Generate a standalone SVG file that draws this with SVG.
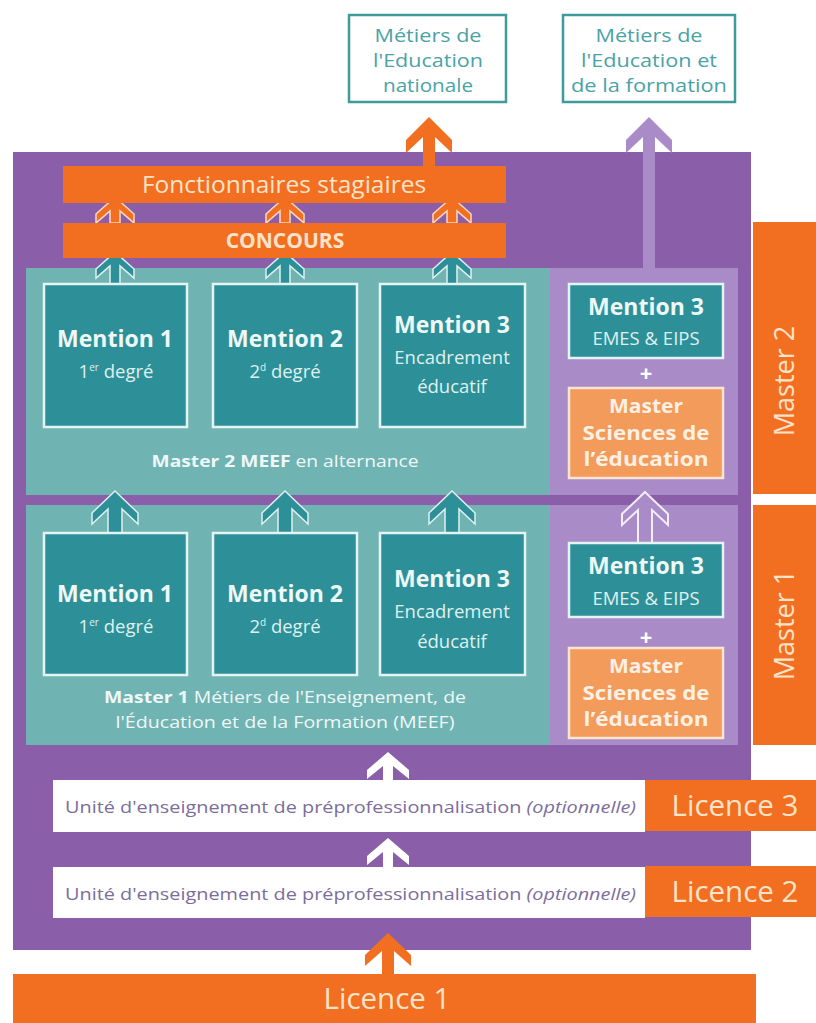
<svg xmlns="http://www.w3.org/2000/svg" width="816" height="1023" viewBox="0 0 816 1023">
<style>
text{font-family:"Open Sans","Noto Sans","Liberation Sans",sans-serif;text-anchor:middle}
.purple{fill:#8a5ea8}
.orange{fill:#f26f21}
.teal{fill:#70b3b3}
.lpurple{fill:#a98bc8}
.mbox{fill:#2d9098;stroke:#e4f4f3;stroke-width:2.5}
.sbox{fill:#f39b5b;stroke:#fbe4d2;stroke-width:2.5}
.tbox{fill:#fff;stroke:#3f9a9c;stroke-width:2.5}
.ttx{fill:#4aa3a6;font-size:18.5px}
.otx{fill:#fde3c9}
.mt{font-size:23px;font-weight:700;fill:#eef8f7}
.st{font-size:18.5px;fill:#dff0ef}
.cap{font-size:16.5px;fill:#eef8f7}
.ue{fill:#7c6d9b;font-size:17px;text-anchor:start}
.lic{font-size:29.5px;fill:#fde3c9}
.tab{font-size:27px;fill:#fde3c9}
.sci{font-size:19.5px;font-weight:700;fill:#fdf0e4}
.arO{fill:#f26f21}
.arOs{fill:#f26f21;stroke:#fcd9c2;stroke-width:1.5}
.arT{fill:#2d9098;stroke:#dff1f0;stroke-width:1.5}
.arL{fill:#a98bc8;stroke:#f3ecf9;stroke-width:2}
.arW{fill:#fff}
</style>

<g id="background">
<rect class="purple" x="13" y="152" width="738" height="798"/>
<rect class="teal" x="26" y="268" width="524" height="227"/>
<rect class="lpurple" x="550" y="268" width="188" height="227"/>
<rect class="teal" x="26" y="505" width="524" height="240"/>
<rect class="lpurple" x="550" y="505" width="188" height="240"/>
</g>

<g id="connectors">
<path class="arO" d="M429,117 L452,140 L452,153 L435,137 L435,167 L423,167 L423,137 L406,153 L406,140 Z"/>
<path class="lpurple" d="M649,117 L672,140 L672,153 L655,137 L655,268 L643,268 L643,137 L626,153 L626,140 Z"/>
<path class="arOs" d="M115,197 L134,214 L134,223 L120,211 L120,223 L110,223 L110,211 L96,223 L96,214 Z"/>
<path class="arOs" d="M285,197 L304,214 L304,223 L290,211 L290,223 L280,223 L280,211 L266,223 L266,214 Z"/>
<path class="arOs" d="M452,197 L471,214 L471,223 L457,211 L457,223 L447,223 L447,211 L433,223 L433,214 Z"/>
<path class="arT" d="M115,252 L134,269 L134,278 L120,266 L120,284 L110,284 L110,266 L96,278 L96,269 Z"/>
<path class="arT" d="M285,252 L304,269 L304,278 L290,266 L290,284 L280,284 L280,266 L266,278 L266,269 Z"/>
<path class="arT" d="M452,252 L471,269 L471,278 L457,266 L457,284 L447,284 L447,266 L433,278 L433,269 Z"/>
<path class="arT" d="M115,491 L138,513 L138,524 L122,509 L122,533 L108,533 L108,509 L92,524 L92,513 Z"/>
<path class="arT" d="M285,491 L308,513 L308,524 L292,509 L292,533 L278,533 L278,509 L262,524 L262,513 Z"/>
<path class="arT" d="M452,491 L475,513 L475,524 L459,509 L459,533 L445,533 L445,509 L429,524 L429,513 Z"/>
<path class="arL" d="M645,492 L668,514 L668,525 L652,510 L652,543 L638,543 L638,510 L622,525 L622,514 Z"/>
<path class="arW" d="M388,752 L409,770 L409,779 L393,766 L393,781 L383,781 L383,766 L367,779 L367,770 Z"/>
<path class="arW" d="M388,838 L409,856 L409,865 L393,852 L393,867 L383,867 L383,852 L367,865 L367,856 Z"/>
<path class="arO" d="M388,933 L411,955 L411,966 L394,951 L394,975 L382,975 L382,951 L365,966 L365,955 Z"/>
</g>

<g id="metiers-education-nationale">
<rect class="tbox" x="349" y="15" width="157" height="87"/>
<text class="ttx" x="428" y="42" textLength="107" lengthAdjust="spacingAndGlyphs">Métiers de</text>
<text class="ttx" x="428" y="67" textLength="110" lengthAdjust="spacingAndGlyphs">l'Education</text>
<text class="ttx" x="428" y="92" textLength="90" lengthAdjust="spacingAndGlyphs">nationale</text>
</g>
<g id="metiers-education-formation">
<rect class="tbox" x="563" y="15" width="172" height="87"/>
<text class="ttx" x="649" y="42" textLength="107" lengthAdjust="spacingAndGlyphs">Métiers de</text>
<text class="ttx" x="649" y="67" textLength="136" lengthAdjust="spacingAndGlyphs">l'Education et</text>
<text class="ttx" x="649" y="92" textLength="156" lengthAdjust="spacingAndGlyphs">de la formation</text>
</g>

<g id="fonctionnaires">
<rect class="orange" x="63" y="166" width="443" height="37"/>
<text class="otx" x="284" y="193" font-size="24.5">Fonctionnaires stagiaires</text>
</g>
<g id="concours">
<rect class="orange" x="63" y="223" width="443" height="35"/>
<text class="otx" x="285" y="248" font-size="21" font-weight="700">CONCOURS</text>
</g>

<g id="m2-mention1">
<rect class="mbox" x="44" y="284" width="143" height="143"/>
<text class="mt" x="115" y="347">Mention 1</text>
<text class="st" x="116" y="378">1<tspan font-size="10" dy="-7">er</tspan><tspan dy="7"> degré</tspan></text>
</g>
<g id="m2-mention2">
<rect class="mbox" x="213" y="284" width="144" height="143"/>
<text class="mt" x="285" y="347">Mention 2</text>
<text class="st" x="285" y="378">2<tspan font-size="10" dy="-7">d</tspan><tspan dy="7"> degré</tspan></text>
</g>
<g id="m2-mention3">
<rect class="mbox" x="380" y="284" width="145" height="143"/>
<text class="mt" x="452" y="333">Mention 3</text>
<text class="st" x="452" y="364">Encadrement</text>
<text class="st" x="452" y="393">éducatif</text>
</g>
<g id="m2-label">
<text class="cap" x="285" y="467" textLength="267" lengthAdjust="spacingAndGlyphs"><tspan font-weight="700">Master  2 MEEF</tspan> en alternance</text>
</g>
<g id="m2-mention3-emes">
<rect class="mbox" x="569" y="284" width="154" height="74"/>
<text class="mt" x="646" y="315">Mention 3</text>
<text class="st" x="646" y="345" font-size="13">EMES &amp; EIPS</text>
<text x="646" y="381" font-size="22" font-weight="700" fill="#fff">+</text>
</g>
<g id="m2-sciences-education">
<rect class="sbox" x="569" y="388" width="154" height="90"/>
<text class="sci" x="646" y="413" textLength="74" lengthAdjust="spacingAndGlyphs">Master</text>
<text class="sci" x="646" y="439.5" textLength="127" lengthAdjust="spacingAndGlyphs">Sciences de</text>
<text class="sci" x="646" y="466" textLength="125" lengthAdjust="spacingAndGlyphs">l’éducation</text>
</g>

<g id="m1-mention1">
<rect class="mbox" x="44" y="533" width="143" height="142"/>
<text class="mt" x="115" y="602">Mention 1</text>
<text class="st" x="116" y="633">1<tspan font-size="10" dy="-7">er</tspan><tspan dy="7"> degré</tspan></text>
</g>
<g id="m1-mention2">
<rect class="mbox" x="213" y="533" width="144" height="142"/>
<text class="mt" x="285" y="602">Mention 2</text>
<text class="st" x="285" y="633">2<tspan font-size="10" dy="-7">d</tspan><tspan dy="7"> degré</tspan></text>
</g>
<g id="m1-mention3">
<rect class="mbox" x="380" y="533" width="145" height="142"/>
<text class="mt" x="452" y="587">Mention 3</text>
<text class="st" x="452" y="618">Encadrement</text>
<text class="st" x="452" y="648">éducatif</text>
</g>
<g id="m1-label">
<text class="cap" x="285" y="703" textLength="362" lengthAdjust="spacingAndGlyphs"><tspan font-weight="700">Master 1</tspan> Métiers de l'Enseignement, de</text>
<text class="cap" x="285" y="728" textLength="339" lengthAdjust="spacingAndGlyphs">l'Éducation et de la Formation (MEEF)</text>
</g>
<g id="m1-mention3-emes">
<rect class="mbox" x="569" y="543" width="154" height="74"/>
<text class="mt" x="646" y="574">Mention 3</text>
<text class="st" x="646" y="605" font-size="13">EMES &amp; EIPS</text>
<text x="646" y="645" font-size="22" font-weight="700" fill="#fff">+</text>
</g>
<g id="m1-sciences-education">
<rect class="sbox" x="569" y="648" width="154" height="90"/>
<text class="sci" x="646" y="673" textLength="74" lengthAdjust="spacingAndGlyphs">Master</text>
<text class="sci" x="646" y="699.5" textLength="127" lengthAdjust="spacingAndGlyphs">Sciences de</text>
<text class="sci" x="646" y="726" textLength="125" lengthAdjust="spacingAndGlyphs">l’éducation</text>
</g>

<g id="master2-tab">
<rect class="orange" x="753" y="222" width="63" height="272"/>
<text class="tab" transform="translate(794,381) rotate(-90)">Master 2</text>
</g>
<g id="master1-tab">
<rect class="orange" x="753" y="505" width="63" height="240"/>
<text class="tab" transform="translate(794,625) rotate(-90)">Master 1</text>
</g>

<g id="ue-l3">
<rect fill="#fff" x="53" y="780" width="592" height="52"/>
<text class="ue" x="65" y="813" textLength="571" lengthAdjust="spacingAndGlyphs">Unité d'enseignement de préprofessionnalisation <tspan font-style="italic">(optionnelle)</tspan></text>
</g>
<g id="licence3">
<rect class="orange" x="645" y="780" width="171" height="51"/>
<text class="lic" x="735" y="816">Licence 3</text>
</g>
<g id="ue-l2">
<rect fill="#fff" x="53" y="867" width="592" height="51"/>
<text class="ue" x="65" y="900" textLength="571" lengthAdjust="spacingAndGlyphs">Unité d'enseignement de préprofessionnalisation <tspan font-style="italic">(optionnelle)</tspan></text>
</g>
<g id="licence2">
<rect class="orange" x="645" y="866" width="171" height="51"/>
<text class="lic" x="735" y="902">Licence 2</text>
</g>
<g id="licence1">
<rect class="orange" x="13" y="974" width="743" height="49"/>
<text class="lic" x="387" y="1009">Licence 1</text>
</g>
</svg>
